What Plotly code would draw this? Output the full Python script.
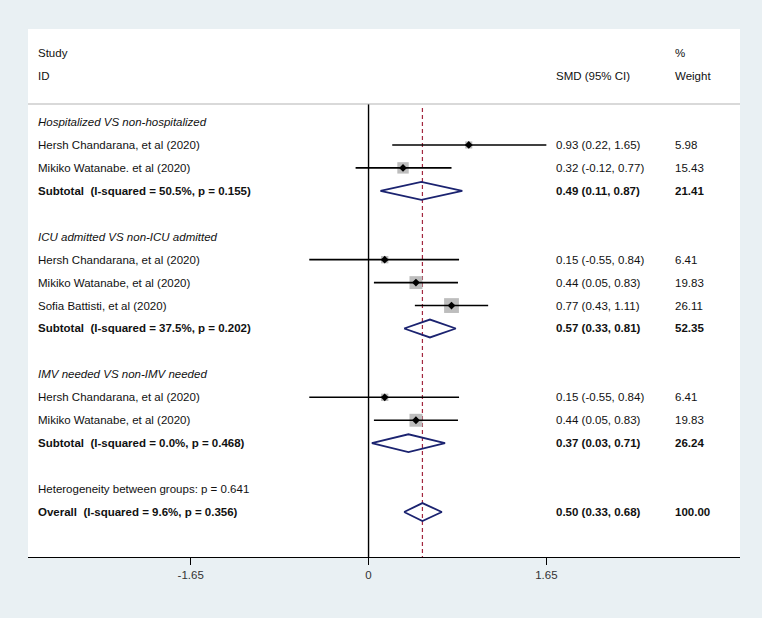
import plotly.graph_objects as go

# ---------------- data ----------------
row_labels = [
    "Hospitalized VS non-hospitalized",
    "Hersh Chandarana, et al (2020)",
    "Mikiko Watanabe. et al (2020)",
    "Subtotal\u00a0 (I-squared = 50.5%, p = 0.155)",
    "",
    "ICU admitted VS non-ICU admitted",
    "Hersh Chandarana, et al (2020)",
    "Mikiko Watanabe, et al (2020)",
    "Sofia Battisti, et al (2020)",
    "Subtotal\u00a0 (I-squared = 37.5%, p = 0.202)",
    "",
    "IMV needed VS non-IMV needed",
    "Hersh Chandarana, et al (2020)",
    "Mikiko Watanabe, et al (2020)",
    "Subtotal\u00a0 (I-squared = 0.0%, p = 0.468)",
    "",
    "Heterogeneity between groups: p = 0.641",
    "Overall\u00a0 (I-squared = 9.6%, p = 0.356)",
]
# row kind: g = group header (italic), s = study, t = subtotal/overall (bold), n = note, b = blank
row_kind = ["g", "s", "s", "t", "b", "g", "s", "s", "s", "t", "b", "g", "s", "s", "t", "b", "n", "t"]

smd = [None, 0.93, 0.32, 0.49, None, None, 0.15, 0.44, 0.77, 0.57, None, None, 0.15, 0.44, 0.37, None, None, 0.50]
ci_low = [None, 0.22, -0.12, 0.11, None, None, -0.55, 0.05, 0.43, 0.33, None, None, -0.55, 0.05, 0.03, None, None, 0.33]
ci_high = [None, 1.65, 0.77, 0.87, None, None, 0.84, 0.83, 1.11, 0.81, None, None, 0.84, 0.83, 0.71, None, None, 0.68]
weight = [None, 5.98, 15.43, 21.41, None, None, 6.41, 19.83, 26.11, 52.35, None, None, 6.41, 19.83, 26.24, None, None, 100.00]
smd_text = ["", "0.93 (0.22, 1.65)", "0.32 (-0.12, 0.77)", "0.49 (0.11, 0.87)", "", "",
            "0.15 (-0.55, 0.84)", "0.44 (0.05, 0.83)", "0.77 (0.43, 1.11)", "0.57 (0.33, 0.81)", "", "",
            "0.15 (-0.55, 0.84)", "0.44 (0.05, 0.83)", "0.37 (0.03, 0.71)", "", "", "0.50 (0.33, 0.68)"]
weight_text = ["", "5.98", "15.43", "21.41", "", "", "6.41", "19.83", "26.11", "52.35", "", "",
               "6.41", "19.83", "26.24", "", "", "100.00"]
overall_smd = 0.50
tick_vals = [-1.65, 0, 1.65]
tick_text = ["-1.65", "0", "1.65"]

# ---------------- styling ----------------
FONT = "Liberation Sans, Arial, sans-serif"
FS = 11.5
NAVY = "#1b2370"
RED = "#a3273f"
GRAY_SQ = "#bdbdbd"

fig = go.Figure()

# squares (study weights)
for i, k in enumerate(row_kind):
    if k == "s":
        fig.add_trace(go.Scatter(x=[smd[i]], y=[i], mode="markers",
                                 marker=dict(symbol="square", size=2.9 * weight[i] ** 0.5,
                                             color=GRAY_SQ, line=dict(width=0)),
                                 hoverinfo="skip", showlegend=False))

# CI lines
for i, k in enumerate(row_kind):
    if k == "s":
        fig.add_trace(go.Scatter(x=[ci_low[i], ci_high[i]], y=[i, i], mode="lines",
                                 line=dict(color="black", width=1.6),
                                 hoverinfo="skip", showlegend=False))

# center dots
sx = [smd[i] for i, k in enumerate(row_kind) if k == "s"]
sy = [i for i, k in enumerate(row_kind) if k == "s"]
fig.add_trace(go.Scatter(x=sx, y=sy, mode="markers",
                         marker=dict(symbol="diamond", size=6, color="black"),
                         hoverinfo="skip", showlegend=False))

# diamonds
H = 0.39
for i, k in enumerate(row_kind):
    if k == "t":
        fig.add_trace(go.Scatter(
            x=[ci_low[i], smd[i], ci_high[i], smd[i], ci_low[i]],
            y=[i, i - H, i, i + H, i], mode="lines",
            line=dict(color=NAVY, width=1.8), hoverinfo="skip", showlegend=False))

# reference lines
Y_TOP = -4.054
Y_BOT = 18.96
Y_SEP = -0.785
fig.add_shape(type="line", x0=0, x1=0, y0=Y_SEP, y1=Y_BOT, line=dict(color="black", width=1.4), layer="below")
fig.add_shape(type="line", x0=overall_smd, x1=overall_smd, y0=-0.61, y1=Y_BOT,
              line=dict(color=RED, width=1.2, dash="4px,3px"), layer="below")
fig.add_shape(type="line", xref="paper", x0=0, x1=1, y0=Y_SEP, y1=Y_SEP,
              line=dict(color="#b4b4b4", width=1.2))

# text columns
X_LAB, X_SMD, X_W = 0.0115, 0.7390, 0.9060


def ann(x, y, text, bold=False, italic=False):
    t = text
    if bold:
        t = "<b>" + t + "</b>"
    if italic:
        t = "<i>" + t + "</i>"
    fig.add_annotation(xref="paper", x=x, y=y, text=t, showarrow=False,
                       xanchor="left", yanchor="middle",
                       font=dict(family=FONT, size=FS, color="#111111"))


ann(X_LAB, -3, "Study")
ann(X_LAB, -2, "ID")
ann(X_W, -3, "%")
ann(X_SMD, -2, "SMD (95% CI)")
ann(X_W, -2, "Weight")

for i, k in enumerate(row_kind):
    if k == "b":
        continue
    ann(X_LAB, i, row_labels[i], bold=(k == "t"), italic=(k == "g"))
    if smd_text[i]:
        ann(X_SMD, i, smd_text[i], bold=(k == "t"))
    if weight_text[i]:
        ann(X_W, i, weight_text[i], bold=(k == "t"))

fig.update_layout(
    width=762, height=618,
    margin=dict(l=28, r=22, t=29, b=61),
    paper_bgcolor="#e9f0f3", plot_bgcolor="white",
    showlegend=False,
    font=dict(family=FONT, size=FS, color="#111111"),
    xaxis=dict(range=[-3.160, 3.447], tickvals=tick_vals, ticktext=tick_text,
               showgrid=False, zeroline=False, showline=True, linecolor="black", linewidth=1.2,
               ticks="outside", ticklen=7, tickcolor="black", tickwidth=1.2,
               tickfont=dict(family=FONT, size=FS, color="#333333"), fixedrange=True),
    yaxis=dict(range=[Y_BOT, Y_TOP], visible=False, showgrid=False, zeroline=False, fixedrange=True),
)

fig.write_html("out.html", config={"displayModeBar": False},
               post_script="document.body.style.margin='0';document.body.style.overflow='hidden';")
